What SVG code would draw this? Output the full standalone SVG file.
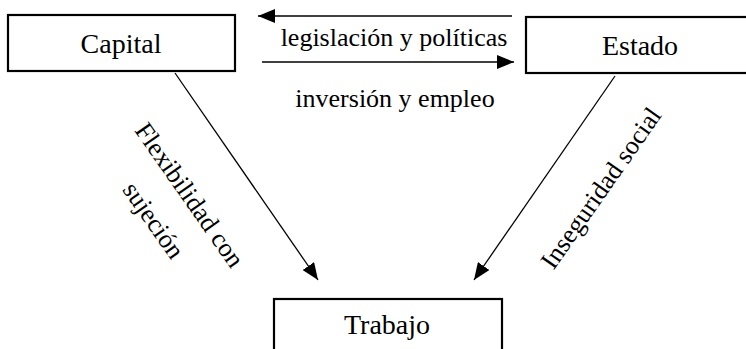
<svg xmlns="http://www.w3.org/2000/svg" width="746" height="349" viewBox="0 0 746 349">
<style>
.box{fill:#fff;stroke:#000;stroke-width:2.2}
.lbl{font-family:"Liberation Serif","Times New Roman",serif;font-size:28px;fill:#000;text-anchor:middle}
.el{font-family:"Liberation Serif","Times New Roman",serif;font-size:26px;fill:#000;text-anchor:middle}
.con{stroke:#000;stroke-width:1.3;fill:none;marker-end:url(#ah)}
</style>
<defs>
<marker id="ah" markerWidth="18" markerHeight="14" refX="17" refY="7" orient="auto" markerUnits="userSpaceOnUse">
<path d="M0,0 L17,7 L0,14 Z" fill="#000"/>
</marker>
</defs>
<rect width="746" height="349" fill="#fff"/>
<g id="connectors">
<line class="con" x1="512" y1="16" x2="258" y2="16"/>
<line class="con" x1="262" y1="62" x2="514" y2="62"/>
<line class="con" x1="175" y1="73" x2="318" y2="280"/>
<line class="con" x1="615" y1="76" x2="474" y2="280"/>
<text class="el" x="394" y="46">legislación y políticas</text>
<text class="el" x="395" y="107">inversión y empleo</text>
<g transform="translate(182.6,200) rotate(55)">
<text class="el" x="0" y="0">Flexibilidad con</text>
<text class="el" x="0" y="44">sujeción</text>
</g>
<g transform="translate(608,193) rotate(-55)">
<text class="el" x="0" y="0">Inseguridad social</text>
</g>
</g>
<g id="capital">
<rect class="box" x="8" y="15" width="227" height="56"/>
<text class="lbl" x="121" y="53">Capital</text>
</g>
<g id="estado">
<rect class="box" x="526" y="17" width="228" height="56"/>
<text class="lbl" x="640" y="55">Estado</text>
</g>
<g id="trabajo">
<rect class="box" x="274" y="299" width="228" height="70"/>
<text class="lbl" x="387" y="334">Trabajo</text>
</g>
</svg>
